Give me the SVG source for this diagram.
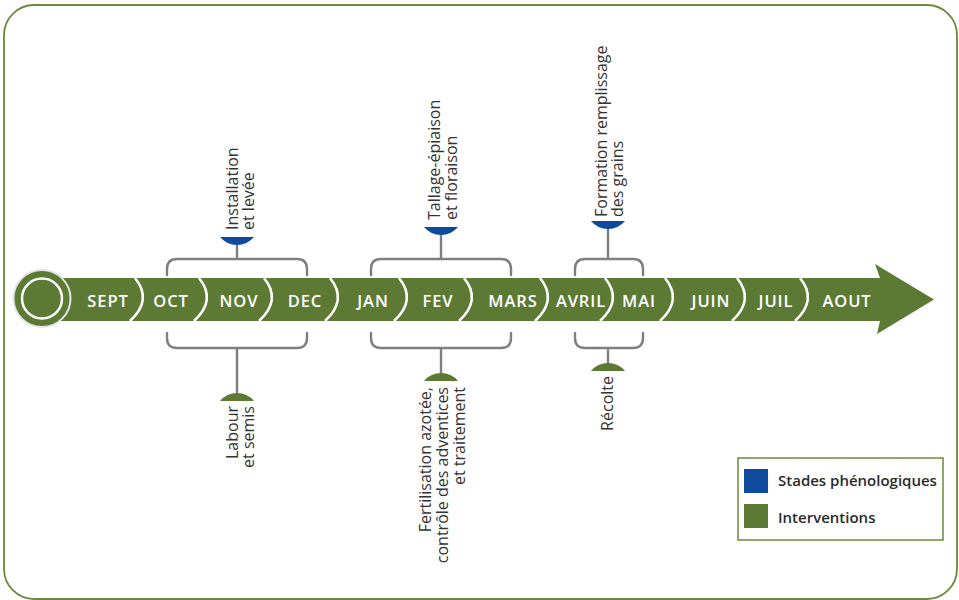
<svg xmlns="http://www.w3.org/2000/svg" width="959" height="600" viewBox="0 0 959 600">
<defs>
<style>
.frame{fill:#fff;stroke:#6b8a3c;stroke-width:1.8}
.band{fill:#5d7a35}
.sep{fill:none;stroke:#fff;stroke-width:2.5}
.month{font-family:"Open Sans","Liberation Sans",sans-serif;font-weight:600;font-size:16.5px;letter-spacing:0.9px;fill:#fff;text-anchor:middle}
.brk{fill:none;stroke:#7f7f7f;stroke-width:2.4;stroke-linecap:round}
.stem{fill:none;stroke:#7f7f7f;stroke-width:2.4}
.blue{fill:#0e4b9c}
.green{fill:#5d7a35}
.lbl{font-family:"Open Sans","Liberation Sans",sans-serif;font-size:16px;fill:#333}
.leg{font-family:"Open Sans","Liberation Sans",sans-serif;font-weight:600;font-size:15px;fill:#2a2a2a}
</style>
</defs>
<rect class="frame" x="4" y="5" width="953" height="594" rx="30" ry="30"/>

<g id="timeline">
<rect class="band" x="42" y="278" width="840" height="43"/>
<polygon class="band" points="880,278 875,264 934,299.5 877,334 880,321"/>
<circle cx="42" cy="298.5" r="28.5" fill="#5d7a35" stroke="#e4e4e4" stroke-width="2"/>
<circle cx="42" cy="298.5" r="20" fill="none" stroke="#fff" stroke-width="2.5"/>
<path class="sep" d="M135,278 Q153,300 130,321"/>
<path class="sep" d="M199,278 Q217,300 194,321"/>
<path class="sep" d="M264,278 Q282,300 259,321"/>
<path class="sep" d="M330,278 Q348,300 325,321"/>
<path class="sep" d="M399,278 Q417,300 394,321"/>
<path class="sep" d="M464,278 Q482,300 459,321"/>
<path class="sep" d="M540,278 Q558,300 535,321"/>
<path class="sep" d="M605,278 Q623,300 600,321"/>
<path class="sep" d="M665,278 Q683,300 660,321"/>
<path class="sep" d="M737,278 Q755,300 732,321"/>
<path class="sep" d="M800,278 Q818,300 795,321"/>
<text class="month" x="108" y="306.5">SEPT</text>
<text class="month" x="171" y="306.5">OCT</text>
<text class="month" x="239" y="306.5">NOV</text>
<text class="month" x="305" y="306.5">DEC</text>
<text class="month" x="373" y="306.5">JAN</text>
<text class="month" x="438" y="306.5">FEV</text>
<text class="month" x="513" y="306.5">MARS</text>
<text class="month" x="581" y="306.5">AVRIL</text>
<text class="month" x="639" y="306.5">MAI</text>
<text class="month" x="711" y="306.5">JUIN</text>
<text class="month" x="776" y="306.5">JUIL</text>
<text class="month" x="847" y="306.5">AOUT</text>
</g>

<g id="connectors">
<path class="brk" d="M167,275 V269 Q167,259 177,259 H297 Q307,259 307,269 V275"/>
<path class="brk" d="M167,333 V338 Q167,348 177,348 H297 Q307,348 307,338 V333"/>
<path class="brk" d="M371,275 V269 Q371,259 381,259 H501 Q511,259 511,269 V275"/>
<path class="brk" d="M371,333 V338 Q371,348 381,348 H501 Q511,348 511,338 V333"/>
<path class="brk" d="M575,275 V269 Q575,259 585,259 H633 Q643,259 643,269 V275"/>
<path class="brk" d="M575,333 V338 Q575,348 585,348 H633 Q643,348 643,338 V333"/>
<line class="stem" x1="237" y1="244" x2="237" y2="259"/>
<line class="stem" x1="237" y1="348" x2="237" y2="394"/>
<line class="stem" x1="441" y1="234" x2="441" y2="259"/>
<line class="stem" x1="441" y1="348" x2="441" y2="374"/>
<line class="stem" x1="608" y1="227" x2="608" y2="259"/>
<line class="stem" x1="608" y1="348" x2="608" y2="364"/>
</g>

<g id="installation">
<path class="blue" d="M220,237 H254 A22,22 0 0 1 220,237 Z"/>
<text class="lbl" transform="translate(238,230) rotate(-90)"><tspan x="0" y="0">Installation</tspan><tspan x="0" y="16">et levée</tspan></text>
</g>
<g id="tallage">
<path class="blue" d="M424,227 H458 A22,22 0 0 1 424,227 Z"/>
<text class="lbl" transform="translate(440,220) rotate(-90)"><tspan x="0" y="0">Tallage-épiaison</tspan><tspan x="0" y="17">et floraison</tspan></text>
</g>
<g id="formation">
<path class="blue" d="M591,221 H625 A22,22 0 0 1 591,221 Z"/>
<text class="lbl" transform="translate(607,217) rotate(-90)"><tspan x="0" y="0">Formation remplissage</tspan><tspan x="0" y="16">des grains</tspan></text>
</g>
<g id="labour">
<path class="green" d="M220,401 A22,22 0 0 1 254,401 Z"/>
<text class="lbl" text-anchor="end" transform="translate(238,406) rotate(-90)"><tspan x="0" y="0">Labour</tspan><tspan x="0" y="16">et semis</tspan></text>
</g>
<g id="fertilisation">
<path class="green" d="M424,381 A22,22 0 0 1 458,381 Z"/>
<text class="lbl" text-anchor="end" transform="translate(431,387) rotate(-90)"><tspan x="0" y="0">Fertilisation azotée,</tspan><tspan x="0" y="17">contrôle des adventices</tspan><tspan x="0" y="34">et traitement</tspan></text>
</g>
<g id="recolte">
<path class="green" d="M591,371 A22,22 0 0 1 625,371 Z"/>
<text class="lbl" text-anchor="end" transform="translate(613,376) rotate(-90)">Récolte</text>
</g>

<g id="legend">
<rect x="738" y="458" width="205" height="82" fill="#fff" stroke="#6b8a3c" stroke-width="1.5"/>
<rect class="blue" x="744" y="469" width="24" height="24"/>
<rect class="green" x="744" y="504" width="24" height="24"/>
<text class="leg" x="778" y="485.5">Stades phénologiques</text>
<text class="leg" x="778" y="522.5">Interventions</text>
</g>
</svg>
